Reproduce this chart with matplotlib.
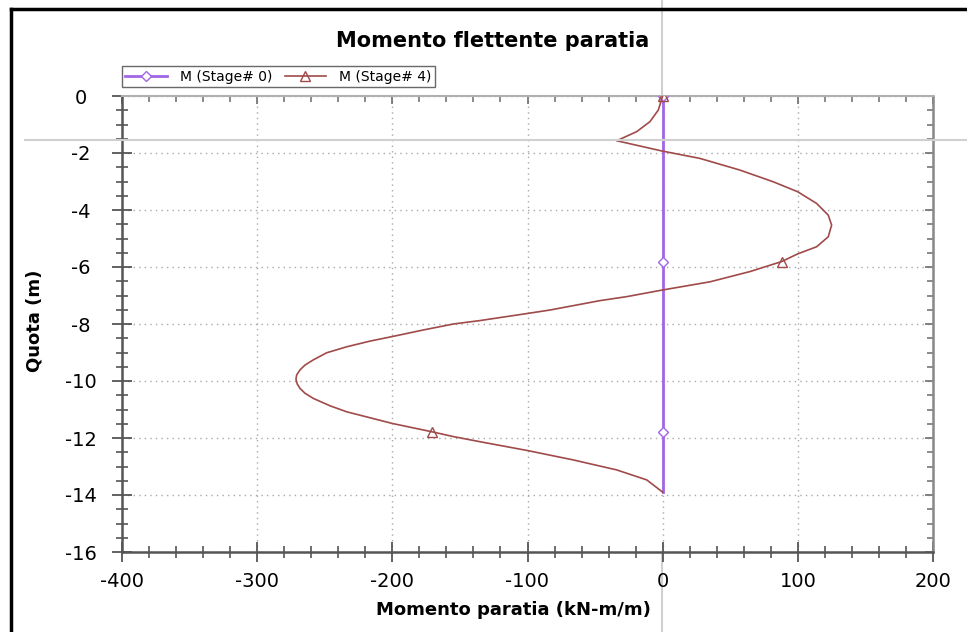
## Bending moment diagram of the sheet pile wall (Stage 0 / Stage 4)

import matplotlib
matplotlib.use('Agg')
import matplotlib.pyplot as plt
import matplotlib.lines as mlines
from matplotlib.lines import Line2D
from matplotlib.ticker import MultipleLocator

plt.rcParams['font.family'] = ['DejaVu Sans']
plt.rcParams['axes.unicode_minus'] = False

# Stage 0: wall not yet loaded, moment is zero all along
stage0_quota = [0.0, -5.82, -11.78, -13.9]
stage0_moment = [0.0, 0.0, 0.0, 0.0]
stage0_marks = [0, 1, 2]

# Stage 4: moment
stage4_quota = [0.0, -0.49, -0.90, -1.25, -1.57, -1.93, -2.19, -2.60, -3.01, -3.36,
                -3.77, -4.18, -4.53, -4.94, -5.29, -5.54, -5.81, -6.16, -6.52, -6.81,
                -7.04, -7.18, -7.51, -7.63, -7.88, -8.0, -8.21, -8.44, -8.60, -8.80,
                -9.01, -9.26, -9.44, -9.61, -9.79, -9.94, -10.11, -10.26, -10.43, -10.61,
                -10.87, -11.08, -11.29, -11.49, -11.78, -11.95, -12.13, -12.44, -12.77, -13.12,
                -13.47, -13.9]
stage4_moment = [0.0, -3.2, -9.4, -19.2, -34.0, -0.5, 27.6, 57.2, 81.8, 99.9,
                 113.9, 122.5, 125.0, 122.5, 113.9, 99.9, 88.0, 64.6, 35.0, -0.5,
                 -26.6, -46.4, -83.4, -100.0, -135.2, -154.9, -177.1, -200.0, -216.5, -233.8,
                 -248.6, -258.5, -264.6, -268.3, -270.8, -271.3, -270.3, -268.3, -264.6, -258.5,
                 -246.1, -233.8, -216.5, -200.0, -170.9, -154.9, -135.2, -100.0, -66.1, -34.0,
                 -11.8, 0.0]
stage4_marks = [0, 16, 44]

labels = ['M (Stage# 0)', 'M (Stage# 4)']
col0 = '#a066e6'
col4 = '#a04a4a'

W, H = 967, 632
fig = plt.figure(figsize=(W/100, H/100), dpi=100)
ax = fig.add_axes([122/W, 1-552/H, 811/W, 456/H])

ax.plot(stage0_moment, stage0_quota, color=col0, linewidth=2, marker='D', markersize=5.5,
        markerfacecolor='white', markeredgecolor=col0, markevery=stage0_marks, label=labels[0], zorder=3)
ax.plot(stage4_moment, stage4_quota, color=col4, linewidth=1.2, marker='^', markersize=7,
        markerfacecolor='none', markeredgecolor=col4, markevery=stage4_marks, label=labels[1], zorder=3)

ax.set_xlim(-400, 200)
ax.set_ylim(-16, 0)
ax.xaxis.set_major_locator(MultipleLocator(100))
ax.xaxis.set_minor_locator(MultipleLocator(20))
ax.yaxis.set_major_locator(MultipleLocator(2))
ax.yaxis.set_minor_locator(MultipleLocator(0.5))

ax.grid(True, which='major', color='#a8a8a8', linestyle=(0, (1, 3)), linewidth=1)

ax.tick_params(axis='both', which='major', direction='inout', length=15, width=1.3,
               color='#555555', labelsize=14, top=True, right=True)
ax.tick_params(axis='both', which='minor', direction='inout', length=9, width=1.2,
               color='#555555', top=True, right=True)
ax.tick_params(axis='x', which='major', pad=7)
ax.tick_params(axis='y', which='major', pad=22)
for lbl in ax.get_yticklabels():
    lbl.set_ha('center')

ax.spines['left'].set_color('#555555')
ax.spines['bottom'].set_color('#555555')
ax.spines['left'].set_linewidth(1.8)
ax.spines['bottom'].set_linewidth(1.8)
ax.spines['top'].set_color('#b0b0b0')
ax.spines['right'].set_color('#888888')
ax.spines['top'].set_linewidth(1.5)
ax.spines['right'].set_linewidth(1.8)

ax.set_xlabel('Momento paratia (kN-m/m)', fontsize=13, fontweight='bold')
ax.set_ylabel('Quota (m)', fontsize=13, fontweight='bold')
ax.xaxis.set_label_coords((513-122)/811, (552-601)/456)
ax.yaxis.set_label_coords((44-122)/811, 0.507)

fig.text(493/W, 1-41/H, 'Momento flettente paratia', fontsize=15, fontweight='bold',
         ha='center', va='center')

leg = fig.legend(loc='lower left', bbox_to_anchor=(122/W, 1-87/H), ncol=2, fontsize=10,
                 frameon=True, fancybox=False, borderpad=0.25, handlelength=3.0,
                 handletextpad=0.9, columnspacing=0.9, borderaxespad=0)
leg.get_frame().set_edgecolor('#444444')
leg.get_frame().set_linewidth(1)

# cursor crosshair and screenshot frame
fig.add_artist(Line2D([25/W, 1], [1-140/H, 1-140/H], color='#d0d0d0', linewidth=1.5))
fig.add_artist(Line2D([662/W, 662/W], [0, 1], color='#d0d0d0', linewidth=1.5, zorder=0))
fig.add_artist(Line2D([11/W, 1], [1-9/H, 1-9/H], color='black', linewidth=2.5))
fig.add_artist(Line2D([11/W, 11/W], [0, 1-9/H], color='black', linewidth=2.5))

# top / right ticks point inward only
fig.canvas.draw()
for ticks, mk, size in [(ax.xaxis.get_major_ticks(), mlines.TICKDOWN, 6),
                        (ax.xaxis.get_minor_ticks(), mlines.TICKDOWN, 4),
                        (ax.yaxis.get_major_ticks(), mlines.TICKLEFT, 6),
                        (ax.yaxis.get_minor_ticks(), mlines.TICKLEFT, 4)]:
    for t in ticks:
        t.tick2line.set_marker(mk)
        t.tick2line.set_markersize(size)
        t.tick2line.set_markeredgecolor('#777777')

fig.savefig('out.png', dpi=100)
